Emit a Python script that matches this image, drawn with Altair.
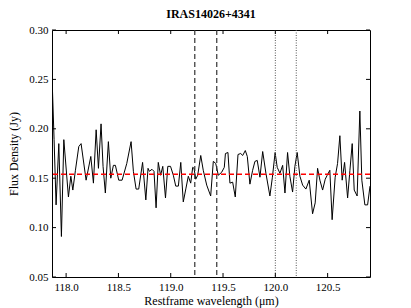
import altair as alt
import pandas as pd

# Spectrum
wavelength = [117.860, 117.885, 117.904, 117.930, 117.955, 117.978, 118.022, 118.045, 118.064, 118.089,
              118.121, 118.143, 118.191, 118.236, 118.261, 118.287, 118.309, 118.334, 118.353, 118.375,
              118.404, 118.427, 118.452, 118.471, 118.503, 118.535, 118.580, 118.621, 118.643, 118.669,
              118.694, 118.731, 118.762, 118.783, 118.796, 118.821, 118.840, 118.860, 118.881, 118.903,
              118.924, 118.950, 118.972, 118.998, 119.025, 119.048, 119.073, 119.096, 119.120, 119.146,
              119.168, 119.191, 119.210, 119.223, 119.239, 119.258, 119.287, 119.311, 119.344, 119.382,
              119.407, 119.430, 119.455, 119.487, 119.512, 119.523, 119.547, 119.566, 119.592, 119.617,
              119.643, 119.669, 119.688, 119.713, 119.732, 119.757, 119.783, 119.805, 119.827, 119.853,
              119.879, 119.910, 119.948, 119.972, 119.998, 120.018, 120.044, 120.070, 120.092, 120.117,
              120.139, 120.165, 120.187, 120.209, 120.235, 120.261, 120.292, 120.324, 120.356, 120.381,
              120.404, 120.426, 120.452, 120.477, 120.496, 120.521, 120.543, 120.572, 120.595, 120.617,
              120.639, 120.662, 120.691, 120.713, 120.735, 120.754, 120.782, 120.808, 120.827, 120.856,
              120.882, 120.905]
flux = [0.270, 0.189, 0.123, 0.185, 0.091, 0.189, 0.131, 0.152, 0.138, 0.158,
        0.182, 0.185, 0.148, 0.172, 0.145, 0.199, 0.160, 0.205, 0.162, 0.135,
        0.187, 0.150, 0.163, 0.163, 0.148, 0.148, 0.165, 0.187, 0.157, 0.139,
        0.139, 0.166, 0.128, 0.160, 0.157, 0.159, 0.157, 0.120, 0.166, 0.153,
        0.162, 0.130, 0.162, 0.162, 0.153, 0.142, 0.142, 0.166, 0.126, 0.140,
        0.152, 0.145, 0.161, 0.160, 0.149, 0.153, 0.173, 0.158, 0.143, 0.132,
        0.167, 0.165, 0.153, 0.156, 0.161, 0.175, 0.176, 0.145, 0.146, 0.131,
        0.174, 0.175, 0.173, 0.178, 0.172, 0.144, 0.158, 0.167, 0.168, 0.151,
        0.177, 0.155, 0.132, 0.151, 0.176, 0.161, 0.155, 0.163, 0.135, 0.176,
        0.152, 0.136, 0.162, 0.176, 0.152, 0.143, 0.139, 0.148, 0.114, 0.125,
        0.160, 0.148, 0.138, 0.149, 0.153, 0.158, 0.108, 0.151, 0.165, 0.193,
        0.148, 0.166, 0.130, 0.158, 0.185, 0.138, 0.132, 0.218, 0.148, 0.123,
        0.123, 0.142]
continuum = [0.154]
dashed_lines = [119.23, 119.44]
dotted_lines = [120.0, 120.2]
x_ticks = [118.0, 118.5, 119.0, 119.5, 120.0, 120.5]
y_ticks = [0.05, 0.10, 0.15, 0.20, 0.25, 0.30]
x_domain = [117.865, 120.905]
y_domain = [0.05, 0.30]

W, H = 318, 247
FONT = "Liberation Serif"

xscale = alt.Scale(domain=x_domain, nice=False, zero=False)
yscale = alt.Scale(domain=y_domain, nice=False, zero=False)
xaxis = alt.Axis(values=x_ticks, format=".1f", title="Restframe wavelength (μm)")
yaxis = alt.Axis(values=y_ticks, format=".2f", title="Flux Density (Jy)")

spec = pd.DataFrame({"wl": wavelength, "flux": flux})

line = alt.Chart(spec).mark_line(color="black", strokeWidth=1, clip=True).encode(
    x=alt.X("wl:Q", scale=xscale, axis=xaxis),
    y=alt.Y("flux:Q", scale=yscale, axis=yaxis),
)

cont = alt.Chart(pd.DataFrame({"c": continuum})).mark_rule(
    color="red", strokeWidth=1.6, strokeDash=[5, 3]
).encode(y=alt.Y("c:Q", scale=yscale, axis=yaxis))

dashed = alt.Chart(pd.DataFrame({"v": dashed_lines})).mark_rule(
    color="#333333", strokeWidth=1.2, strokeDash=[5, 3]
).encode(x=alt.X("v:Q", scale=xscale, axis=xaxis))

dotted = alt.Chart(pd.DataFrame({"v": dotted_lines})).mark_rule(
    color="#555555", strokeWidth=1, strokeDash=[1, 1.5]
).encode(x=alt.X("v:Q", scale=xscale, axis=xaxis))

xt = pd.DataFrame({"t": x_ticks})
yt = pd.DataFrame({"t": y_ticks})
tb = alt.Chart(xt).mark_rule(color="black").encode(
    x=alt.X("t:Q", scale=xscale, axis=xaxis), y=alt.value(H), y2=alt.value(H - 4))
tt = alt.Chart(xt).mark_rule(color="black").encode(
    x=alt.X("t:Q", scale=xscale, axis=xaxis), y=alt.value(0), y2=alt.value(4))
tl = alt.Chart(yt).mark_rule(color="black").encode(
    y=alt.Y("t:Q", scale=yscale, axis=yaxis), x=alt.value(0), x2=alt.value(4))
tr = alt.Chart(yt).mark_rule(color="black").encode(
    y=alt.Y("t:Q", scale=yscale, axis=yaxis), x=alt.value(W), x2=alt.value(W - 4))

chart = alt.layer(line, dashed, dotted, cont, tb, tt, tl, tr).properties(
    width=W, height=H,
    title=alt.TitleParams("IRAS14026+4341", font=FONT, fontSize=12, fontWeight="bold",
                          color="black", anchor="middle", offset=3),
    autosize=alt.AutoSizeParams(type="none"),
    padding={"left": 44, "top": 22, "right": 30, "bottom": 31},
).configure_view(
    stroke="black", strokeWidth=1
).configure_axis(
    domain=False, ticks=False, grid=False,
    labelFont=FONT, labelFontSize=11, labelColor="black", labelPadding=4,
    labelFlush=False,
    titleFont=FONT, titleFontSize=12, titleFontWeight="normal", titleColor="black",
).configure_axisX(titlePadding=3).configure_axisY(titlePadding=8)

chart.save("out.html", embed_options={"renderer": "svg", "actions": False})
